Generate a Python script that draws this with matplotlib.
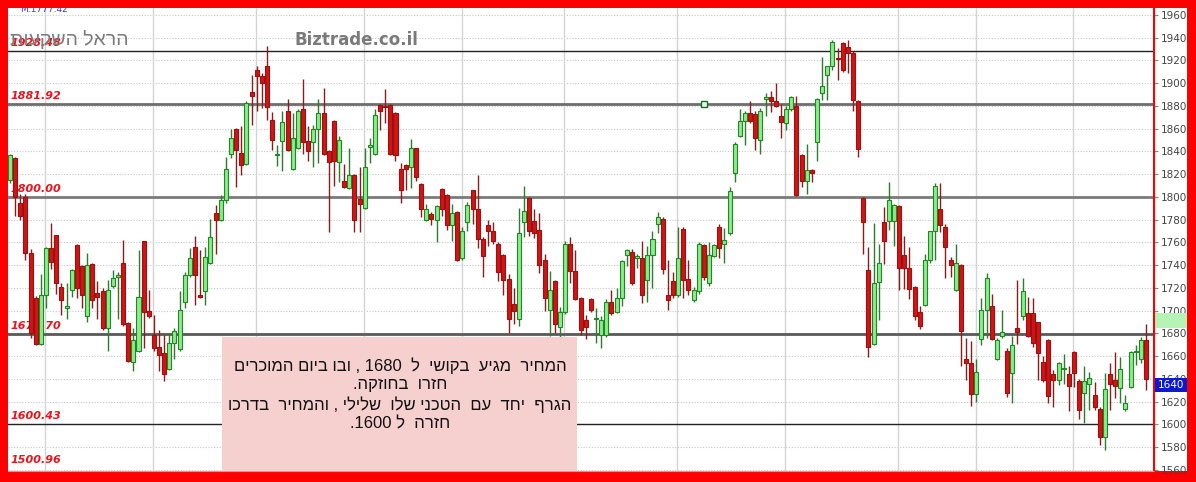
import matplotlib.pyplot as plt
import matplotlib.transforms as mtransforms
from matplotlib.patches import Rectangle

# daily candles (oldest first)
opens = [1815, 1834, 1795, 1800, 1751, 1711, 1671, 1714, 1755, 1767,
         1721, 1702, 1718, 1758, 1739, 1695, 1741, 1716, 1717, 1685,
         1722, 1730, 1742, 1689, 1655, 1665, 1761, 1700, 1679, 1668,
         1663, 1649, 1672, 1666, 1708, 1731, 1756, 1714, 1717, 1742,
         1786, 1780, 1797, 1838, 1860, 1839, 1829, 1892, 1912, 1906,
         1915, 1868, 1837, 1849, 1876, 1825, 1843, 1877, 1849, 1848,
         1860, 1874, 1840, 1867, 1831, 1814, 1808, 1819, 1798, 1790,
         1844, 1838, 1881, 1880, 1881, 1874, 1825, 1828, 1826, 1843,
         1811, 1780, 1785, 1780, 1807, 1802, 1775, 1787, 1746, 1778,
         1806, 1789, 1763, 1775, 1770, 1759, 1749, 1728, 1706, 1693,
         1778, 1799, 1779, 1771, 1745, 1701, 1726, 1686, 1699, 1759,
         1735, 1711, 1692, 1710, 1693, 1679, 1679, 1708, 1699, 1711,
         1749, 1752, 1746, 1746, 1727, 1749, 1776, 1781, 1714, 1726,
         1714, 1772, 1728, 1709, 1717, 1758, 1724, 1748, 1774, 1759,
         1768, 1821, 1854, 1867, 1874, 1873, 1850, 1886, 1888, 1884,
         1871, 1865, 1877, 1880, 1837, 1814, 1824, 1848, 1891, 1907,
         1915, 1922, 1935, 1932, 1927, 1884, 1799, 1736, 1671, 1725,
         1778, 1779, 1779, 1792, 1749, 1738, 1721, 1699, 1705, 1745,
         1770, 1789, 1774, 1745, 1718, 1740, 1658, 1654, 1627, 1675,
         1701, 1704, 1658, 1678, 1665, 1645, 1685, 1695, 1698, 1698,
         1690, 1655, 1674, 1644, 1639, 1649, 1644, 1664, 1638, 1628,
         1636, 1626, 1614, 1589, 1644, 1639, 1632, 1614, 1633, 1664,
         1658, 1674]
highs = [1838, 1835, 1803, 1803, 1754, 1713, 1732, 1756, 1777, 1767,
         1724, 1724, 1737, 1759, 1740, 1751, 1742, 1726, 1720, 1727,
         1736, 1734, 1762, 1690, 1685, 1753, 1761, 1718, 1696, 1683,
         1679, 1680, 1685, 1717, 1734, 1755, 1766, 1753, 1756, 1781,
         1793, 1802, 1835, 1860, 1861, 1862, 1884, 1907, 1915, 1909,
         1933, 1875, 1846, 1876, 1886, 1874, 1877, 1904, 1862, 1863,
         1886, 1896, 1841, 1868, 1854, 1829, 1843, 1820, 1826, 1843,
         1852, 1877, 1882, 1895, 1882, 1875, 1830, 1829, 1851, 1843,
         1812, 1794, 1787, 1793, 1808, 1803, 1794, 1788, 1774, 1796,
         1806, 1819, 1765, 1780, 1778, 1760, 1750, 1732, 1720, 1790,
         1810, 1800, 1789, 1786, 1750, 1735, 1727, 1703, 1761, 1765,
         1753, 1712, 1696, 1711, 1702, 1695, 1710, 1718, 1720, 1745,
         1754, 1754, 1750, 1761, 1757, 1770, 1787, 1782, 1745, 1734,
         1774, 1774, 1745, 1721, 1760, 1759, 1760, 1759, 1776, 1773,
         1809, 1848, 1877, 1876, 1884, 1876, 1878, 1891, 1893, 1900,
         1882, 1880, 1889, 1889, 1838, 1847, 1825, 1887, 1923, 1915,
         1938, 1931, 1936, 1938, 1928, 1885, 1800, 1756, 1777, 1759,
         1791, 1813, 1794, 1793, 1766, 1756, 1722, 1704, 1750, 1770,
         1812, 1812, 1776, 1747, 1759, 1741, 1676, 1673, 1658, 1711,
         1733, 1715, 1676, 1701, 1667, 1678, 1727, 1729, 1712, 1711,
         1690, 1660, 1675, 1648, 1655, 1662, 1651, 1665, 1640, 1651,
         1646, 1637, 1615, 1645, 1654, 1664, 1659, 1626, 1665, 1670,
         1677, 1688]
lows = [1812, 1783, 1780, 1745, 1676, 1670, 1670, 1702, 1737, 1715,
        1696, 1693, 1712, 1711, 1702, 1690, 1702, 1693, 1683, 1665,
        1720, 1693, 1687, 1655, 1647, 1664, 1667, 1694, 1665, 1647,
        1638, 1648, 1658, 1665, 1702, 1730, 1705, 1711, 1705, 1741,
        1750, 1779, 1795, 1834, 1809, 1819, 1828, 1863, 1876, 1878,
        1868, 1841, 1827, 1823, 1840, 1824, 1842, 1838, 1832, 1826,
        1830, 1837, 1769, 1810, 1813, 1808, 1807, 1769, 1769, 1789,
        1830, 1837, 1859, 1865, 1837, 1832, 1795, 1806, 1808, 1814,
        1782, 1779, 1775, 1760, 1783, 1771, 1761, 1744, 1745, 1770,
        1776, 1755, 1730, 1757, 1759, 1726, 1714, 1680, 1688, 1687,
        1765, 1766, 1764, 1733, 1700, 1678, 1680, 1677, 1697, 1724,
        1709, 1679, 1675, 1699, 1672, 1667, 1677, 1696, 1698, 1704,
        1739, 1723, 1738, 1707, 1708, 1720, 1768, 1732, 1701, 1711,
        1712, 1711, 1714, 1708, 1715, 1727, 1722, 1747, 1746, 1742,
        1767, 1813, 1853, 1846, 1865, 1841, 1838, 1871, 1875, 1879,
        1852, 1859, 1876, 1801, 1809, 1803, 1813, 1832, 1885, 1885,
        1912, 1903, 1910, 1909, 1876, 1835, 1750, 1659, 1670, 1692,
        1741, 1771, 1757, 1718, 1719, 1710, 1692, 1684, 1704, 1742,
        1745, 1769, 1729, 1730, 1717, 1651, 1639, 1616, 1620, 1670,
        1676, 1674, 1657, 1676, 1624, 1619, 1671, 1692, 1677, 1668,
        1639, 1637, 1619, 1615, 1635, 1636, 1612, 1633, 1605, 1601,
        1613, 1613, 1582, 1578, 1613, 1623, 1619, 1612, 1632, 1652,
        1654, 1630]
closes = [1837, 1800, 1783, 1751, 1680, 1671, 1714, 1755, 1743, 1724,
          1709, 1704, 1736, 1720, 1714, 1740, 1709, 1712, 1685, 1718,
          1729, 1731, 1688, 1656, 1674, 1712, 1699, 1695, 1667, 1661,
          1644, 1672, 1682, 1701, 1731, 1746, 1731, 1712, 1747, 1765,
          1780, 1797, 1825, 1852, 1841, 1828, 1883, 1889, 1906, 1900,
          1879, 1850, 1838, 1866, 1841, 1852, 1876, 1848, 1840, 1860,
          1874, 1838, 1831, 1832, 1850, 1809, 1819, 1780, 1794, 1826,
          1846, 1872, 1876, 1879, 1838, 1837, 1806, 1825, 1843, 1818,
          1789, 1789, 1781, 1792, 1789, 1775, 1786, 1745, 1770, 1793,
          1789, 1763, 1748, 1770, 1761, 1734, 1727, 1693, 1700, 1768,
          1788, 1770, 1768, 1740, 1711, 1718, 1688, 1699, 1759, 1735,
          1710, 1683, 1686, 1701, 1694, 1692, 1708, 1698, 1711, 1744,
          1753, 1724, 1748, 1714, 1749, 1763, 1782, 1737, 1709, 1714,
          1746, 1727, 1718, 1718, 1759, 1730, 1749, 1758, 1755, 1762,
          1805, 1847, 1867, 1874, 1867, 1852, 1876, 1888, 1884, 1880,
          1866, 1877, 1888, 1802, 1814, 1824, 1821, 1886, 1898, 1915,
          1936, 1921, 1912, 1927, 1885, 1842, 1778, 1668, 1724, 1742,
          1761, 1797, 1793, 1738, 1738, 1719, 1695, 1687, 1745, 1770,
          1810, 1775, 1756, 1740, 1742, 1682, 1654, 1627, 1646, 1701,
          1729, 1675, 1674, 1681, 1628, 1670, 1681, 1717, 1678, 1672,
          1663, 1639, 1625, 1639, 1654, 1649, 1634, 1645, 1613, 1638,
          1641, 1615, 1589, 1631, 1636, 1634, 1649, 1619, 1664, 1664,
          1674, 1640]

level_values = [1928.48, 1881.92, 1800.00, 1679.70, 1600.43]
level_labels = ["1928.48", "1881.92", "1800.00", "1679.70", "1600.43"]
bottom_label = "1500.96"
month_starts = [7, 28, 48, 69, 88, 108, 130, 151, 173, 188, 207]
right_ticks = list(range(1560, 1961, 20))
last_price = 1640
indicator_low, indicator_high = 1685, 1698
marker_index, marker_price = 135, 1881.92
top_note = "M:1777.42"
watermark_he = "הראל השקעות"
watermark_site = "Biztrade.co.il"
note_lines = [
    "המחיר  מגיע  בקושי  ל  1680 , ובו ביום המוכרים",
    "חזרו  בחוזקה.",
    "הגרף  יחד  עם  הטכני שלו  שלילי , והמחיר  בדרכו",
    "חזרה  ל 1600.",
]


def visual_rtl(text):
    # matplotlib lays text out left to right, so put Hebrew in visual order
    parts = []
    for tok in text.split(" "):
        if any("\u0590" <= ch <= "\u05ff" for ch in tok):
            parts.append(tok[::-1])
        elif tok.endswith(".") and tok[:-1].isdigit():
            parts.append("." + tok[:-1])
        else:
            parts.append(tok)
    return " ".join(reversed(parts))


W, H = 1196, 482
fig = plt.figure(figsize=(W / 100, H / 100), dpi=100, facecolor="#ff0000")
fig.add_artist(Rectangle((8 / W, 11 / H), 1179 / W, 463 / H,
                         transform=fig.transFigure, facecolor="white",
                         edgecolor="none", zorder=-1))

ax = fig.add_axes([8 / W, 11 / H, 1146 / W, 463 / H])
ax.set_xlim(-0.39, 222.57)
ax.set_ylim(1559.1, 1966.15)

# grid
for y in right_ticks:
    ax.axhline(y, color="#c8c8c8", lw=0.8, ls=(0, (1, 1.5)), zorder=0)
for m in month_starts:
    ax.axvline(m - 0.15, color="#d4d4d4", lw=1, zorder=0)

# support / resistance levels
level_colors = ["#222222", "#6e6e6e", "#7a7a7a", "#5a5a5a", "#222222"]
level_widths = [1.0, 2.0, 2.0, 2.0, 1.0]
ytr = ax.get_yaxis_transform()
for val, lab, col, lw in zip(level_values, level_labels, level_colors, level_widths):
    ax.axhline(val, color=col, lw=lw, zorder=1)
    ax.text(0.002, val + 2.2, lab, transform=ytr, color="#e8141c",
            fontsize=8, fontstyle="italic", fontweight="bold",
            va="bottom", ha="left", zorder=1.5)
ax.text(0.002, 0.012, bottom_label, transform=ax.transAxes, color="#e8141c",
        fontsize=8, fontstyle="italic", fontweight="bold",
        va="bottom", ha="left", zorder=1.5)

# candles
idx = list(range(len(closes)))
for i, o, h, l, c in zip(idx, opens, highs, lows, closes):
    up = c >= o
    wick = "#2b7d2b" if up else "#8a1c1c"
    ax.vlines(i, min(l, o, c), max(h, o, c), color=wick, lw=1, zorder=2)
    ax.bar(i, max(abs(c - o), 1.0), bottom=min(o, c), width=0.78,
           color="#8eea8e" if up else "#d01515",
           edgecolor="#1d8a1d" if up else "#9c1010", linewidth=0.8, zorder=3)

ax.plot(marker_index, marker_price, marker="s", ms=5, mfc="#e8ffe8",
        mec="#1d6b1d", mew=1, zorder=4)

# right price axis
ax.yaxis.tick_right()
ax.set_yticks(right_ticks)
ax.set_yticklabels([str(t) for t in right_ticks])
ax.tick_params(axis="y", direction="out", length=3, color="#888888",
               labelsize=7.5, labelcolor="#444444", pad=2)
ax.set_xticks([])
for side in ["left", "top"]:
    ax.spines[side].set_visible(False)
ax.spines["right"].set_color("#ff0000")
ax.spines["right"].set_linewidth(1.5)
ax.spines["bottom"].set_color("#aaaaaa")
ax.spines["bottom"].set_linestyle((0, (1, 1)))

btr = mtransforms.blended_transform_factory(fig.transFigure, ax.transData)
ax.add_patch(Rectangle((1155 / W, indicator_low), 32 / W, indicator_high - indicator_low,
                       transform=btr, facecolor="#b6f4b6", edgecolor="none",
                       clip_on=False, zorder=10))
ax.add_patch(Rectangle((1155 / W, last_price - 11.5), 32 / W, 12.5,
                       transform=btr, facecolor="#0a1ad0", edgecolor="none",
                       clip_on=False, zorder=10))
ax.text(1171 / W, last_price - 5.3, str(last_price), transform=btr, color="white",
        fontsize=7.5, ha="center", va="center", clip_on=False, zorder=11)

# top-left captions
ax.text(12 / 1146, 1.006, top_note, transform=ax.transAxes, color="#3a3ad8",
        fontsize=6.5, va="top", ha="left", clip_on=True, zorder=5)
fig.text(10 / W, 1 - 40 / H, visual_rtl(watermark_he), color="#7c7c7c",
         fontsize=14, family=["Liberation Sans", "DejaVu Sans"],
         va="center", ha="left", zorder=6)
fig.text(295 / W, 1 - 40 / H, watermark_site, color="#7a7a7a",
         fontsize=12, fontweight="bold", family="DejaVu Sans",
         va="center", ha="left", zorder=6)

# comment box
fig.add_artist(Rectangle((222 / W, 11 / H), 355 / W, (471 - 337) / H,
                         transform=fig.transFigure, facecolor="#f6cfcf",
                         edgecolor="none", zorder=8))
for k, line in enumerate(note_lines):
    fig.text(400 / W, 1 - (365.5 + 19.5 * k) / H, visual_rtl(line),
             color="#111111", fontsize=12,
             family=["Liberation Sans", "DejaVu Sans"],
             ha="center", va="center", zorder=9)

fig.savefig("out.png", dpi=100, facecolor=fig.get_facecolor())
